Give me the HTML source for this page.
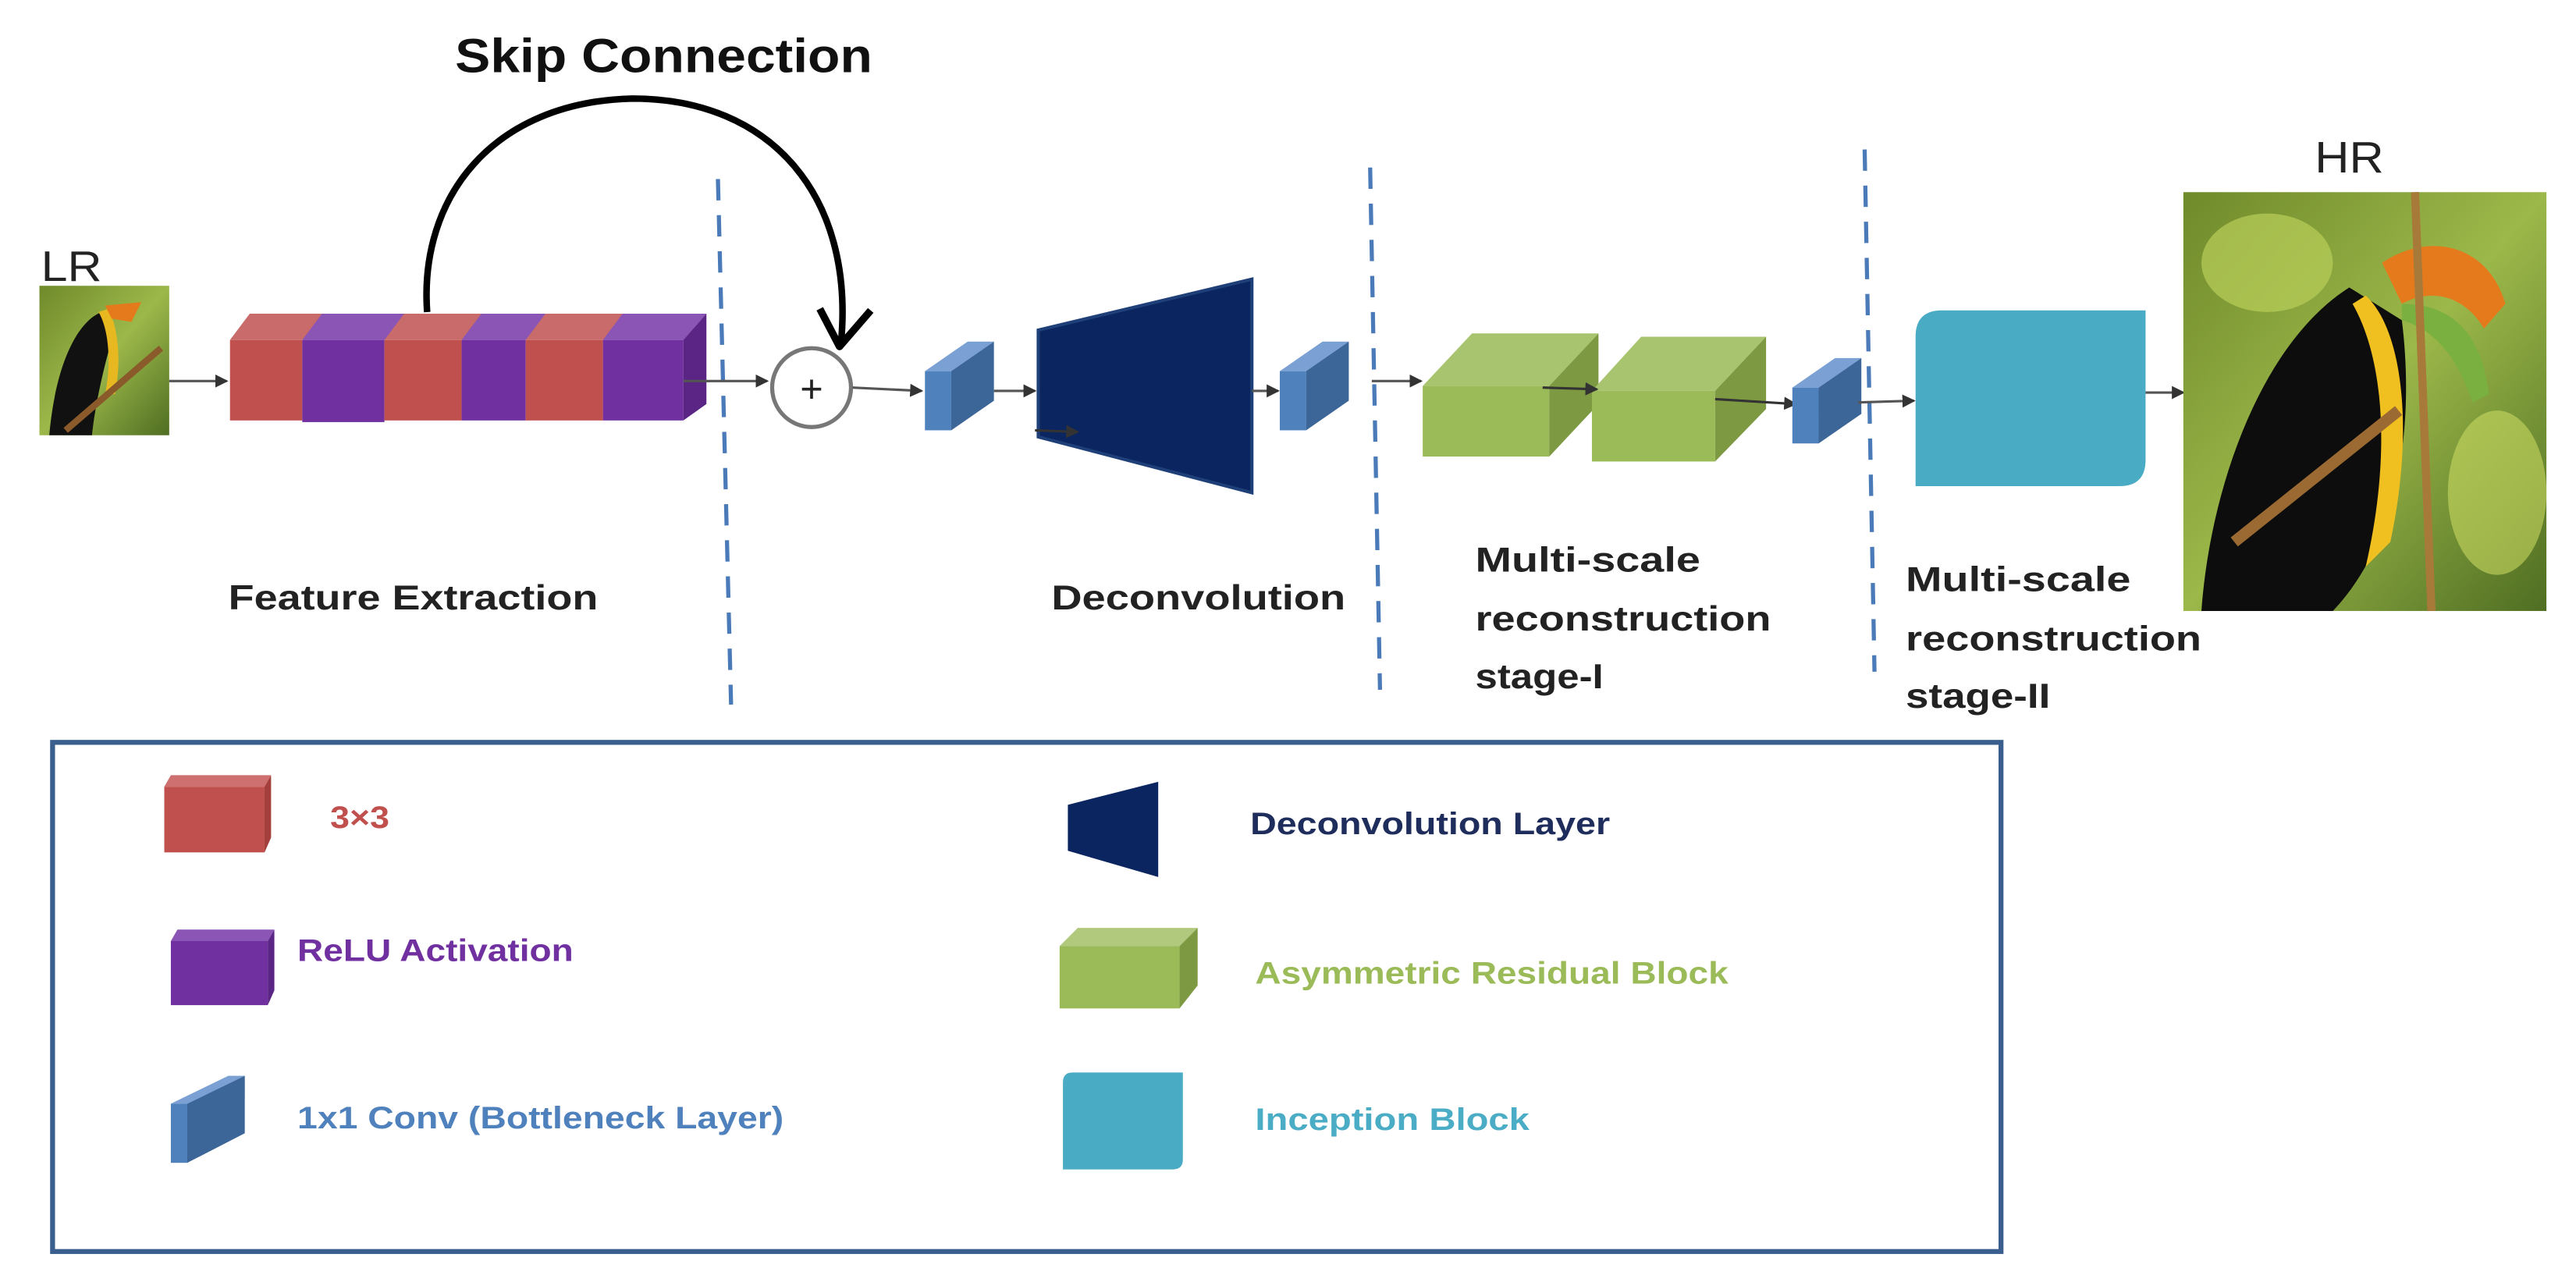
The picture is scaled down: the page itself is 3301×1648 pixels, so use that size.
<!DOCTYPE html>
<html><head><meta charset="utf-8"><style>
html,body{margin:0;padding:0;background:#fff;}
svg{display:block;}
text{font-family:"Liberation Sans",sans-serif;font-weight:bold;}
</style></head><body>
<svg width="3301" height="1648" viewBox="0 0 1568 783" preserveAspectRatio="none" xmlns="http://www.w3.org/2000/svg">
<defs>
<marker id="ah" markerWidth="8" markerHeight="8" refX="7" refY="4" orient="auto" markerUnits="userSpaceOnUse">
<path d="M0,0 L8,4 L0,8 Z" fill="#333"/></marker>
<linearGradient id="bg1" x1="0" y1="0" x2="1" y2="1">
<stop offset="0" stop-color="#6f8a2a"/><stop offset="0.5" stop-color="#9cb84a"/><stop offset="1" stop-color="#4f6e22"/></linearGradient>
</defs>

<text x="277" y="44" font-size="29" fill="#111" textLength="254" lengthAdjust="spacingAndGlyphs">Skip Connection</text>
<path d="M260,190 C255,120 300,62 385,60 C470,60 520,120 512,208" fill="none" stroke="#000" stroke-width="4"/>
<path d="M499,188 L511,211 L530,189" fill="none" stroke="#000" stroke-width="4.5" stroke-linejoin="round"/>

<text x="25" y="171" font-size="26" style="font-weight:normal" fill="#222" textLength="37" lengthAdjust="spacingAndGlyphs">LR</text>
<g>
<rect x="24" y="174" width="79" height="91" fill="url(#bg1)"/>
<path d="M30,265 C34,220 48,195 62,190 L70,200 C64,220 58,245 56,265 Z" fill="#111"/>
<path d="M60,190 C66,200 68,220 64,240 L70,240 C74,220 72,200 66,188 Z" fill="#e8b820"/>
<path d="M64,186 L86,184 L80,196 L68,194 Z" fill="#e57a1c"/>
<path d="M40,262 L98,212" stroke="#8a5a2a" stroke-width="4"/>
</g>
<line x1="103" y1="232" x2="138" y2="232" stroke="#555" stroke-width="1.5" marker-end="url(#ah)"/>

<g>
<polygon points="140,207 152,191 430,191 416,207" fill="#c96b6b"/>
<polygon points="184,207 196,191 246,191 234,207" fill="#8a55b5"/>
<polygon points="281,207 293,191 332,191 320,207" fill="#8a55b5"/>
<polygon points="367,207 379,191 430,191 416,207" fill="#8a55b5"/>
<rect x="140" y="207" width="44" height="49" fill="#c0504d"/>
<rect x="184" y="207" width="50" height="50" fill="#7030a0"/>
<rect x="234" y="207" width="47" height="49" fill="#c0504d"/>
<rect x="281" y="207" width="39" height="49" fill="#7030a0"/>
<rect x="320" y="207" width="47" height="49" fill="#c0504d"/>
<rect x="367" y="207" width="49" height="49" fill="#7030a0"/>
<polygon points="416,207 430,191 430,246 416,256" fill="#5a2585"/>
</g>

<line x1="437" y1="109" x2="445" y2="429" stroke="#4a7ab8" stroke-width="2.5" stroke-dasharray="13,9"/>
<line x1="834" y1="102" x2="840" y2="420" stroke="#4a7ab8" stroke-width="2.5" stroke-dasharray="13,9"/>
<line x1="1135" y1="91" x2="1141" y2="409" stroke="#4a7ab8" stroke-width="2.5" stroke-dasharray="13,9"/>

<line x1="416" y1="232" x2="467" y2="232" stroke="#555" stroke-width="1.5" marker-end="url(#ah)"/>
<circle cx="494" cy="236" r="24" fill="#fff" stroke="#777" stroke-width="2.5"/>
<text x="494" y="245" font-size="24" style="font-weight:normal" text-anchor="middle" fill="#222">+</text>
<line x1="519" y1="236" x2="561" y2="238" stroke="#555" stroke-width="1.5" marker-end="url(#ah)"/>

<polygon points="563,226 579,226 605,208 589,208" fill="#7aa0d4"/>
<rect x="563" y="226" width="16" height="36" fill="#4f81bd"/>
<polygon points="579,226 605,208 605,244 579,262" fill="#3c6598"/>
<line x1="605" y1="238" x2="630" y2="238" stroke="#555" stroke-width="1.5" marker-end="url(#ah)"/>

<polygon points="632,201 762,170 762,300 632,266" fill="#0a2560" stroke="#1e3f78" stroke-width="2"/>
<line x1="630" y1="262" x2="656" y2="263" stroke="#333" stroke-width="1.5" marker-end="url(#ah)"/>
<line x1="762" y1="238" x2="778" y2="238" stroke="#555" stroke-width="1.5" marker-end="url(#ah)"/>

<polygon points="779,226 795,226 821,208 805,208" fill="#7aa0d4"/>
<rect x="779" y="226" width="16" height="36" fill="#4f81bd"/>
<polygon points="795,226 821,208 821,244 795,262" fill="#3c6598"/>

<line x1="835" y1="232" x2="865" y2="232" stroke="#555" stroke-width="1.5" marker-end="url(#ah)"/>

<polygon points="866,235 896,203 973,203 943,235" fill="#a8c46e"/>
<rect x="866" y="235" width="77" height="43" fill="#9bbb59"/>
<polygon points="943,235 973,203 973,246 943,278" fill="#7d9a42"/>
<polygon points="969,238 999,205 1075,205 1044,238" fill="#a8c46e"/>
<rect x="969" y="238" width="75" height="43" fill="#9bbb59"/>
<polygon points="1044,238 1075,205 1075,249 1044,281" fill="#7d9a42"/>
<line x1="939" y1="236" x2="972" y2="237" stroke="#333" stroke-width="1.5" marker-end="url(#ah)"/>
<line x1="1044" y1="243" x2="1093" y2="246" stroke="#333" stroke-width="1.5" marker-end="url(#ah)"/>

<polygon points="1091,236 1107,236 1133,218 1117,218" fill="#7aa0d4"/>
<rect x="1091" y="236" width="16" height="34" fill="#4f81bd"/>
<polygon points="1107,236 1133,218 1133,252 1107,270" fill="#3c6598"/>
<line x1="1131" y1="245" x2="1165" y2="244" stroke="#555" stroke-width="1.5" marker-end="url(#ah)"/>

<path d="M1182,189 L1306,189 L1306,280 Q1306,296 1290,296 L1166,296 L1166,205 Q1166,189 1182,189 Z" fill="#4aabc4"/>
<line x1="1306" y1="239" x2="1329" y2="239" stroke="#555" stroke-width="1.5" marker-end="url(#ah)"/>

<text x="1409" y="105" font-size="27" style="font-weight:normal" fill="#222" textLength="42" lengthAdjust="spacingAndGlyphs">HR</text>
<g>
<rect x="1329" y="117" width="221" height="255" fill="url(#bg1)"/>
<ellipse cx="1380" cy="160" rx="40" ry="30" fill="#b9cf5a" opacity="0.7"/>
<ellipse cx="1520" cy="300" rx="30" ry="50" fill="#c8d860" opacity="0.6"/>
<path d="M1340,372 C1345,300 1375,210 1430,175 L1462,195 C1470,260 1460,330 1420,372 Z" fill="#0d0d0d"/>
<path d="M1440,180 C1462,200 1470,260 1455,330 L1440,345 C1455,280 1452,220 1432,185 Z" fill="#f0c020"/>
<path d="M1450,160 C1480,140 1515,150 1525,185 L1512,200 C1500,180 1480,175 1462,185 Z" fill="#e57a1c"/>
<path d="M1462,185 C1490,185 1510,200 1515,240 L1505,245 C1495,215 1480,200 1462,195 Z" fill="#7ab040"/>
<path d="M1360,330 L1460,250" stroke="#9a6a32" stroke-width="7"/>
<path d="M1470,117 L1480,372" stroke="#a87a3a" stroke-width="5"/>
</g>

<text x="139" y="371" font-size="21" fill="#222" textLength="225" lengthAdjust="spacingAndGlyphs">Feature Extraction</text>
<text x="640" y="371" font-size="21" fill="#222" textLength="179" lengthAdjust="spacingAndGlyphs">Deconvolution</text>
<text x="898" y="348" font-size="21" fill="#222" textLength="137" lengthAdjust="spacingAndGlyphs">Multi-scale</text>
<text x="898" y="384" font-size="21" fill="#222" textLength="180" lengthAdjust="spacingAndGlyphs">reconstruction</text>
<text x="898" y="419" font-size="21" fill="#222" textLength="78" lengthAdjust="spacingAndGlyphs">stage-I</text>
<text x="1160" y="360" font-size="21" fill="#222" textLength="137" lengthAdjust="spacingAndGlyphs">Multi-scale</text>
<text x="1160" y="396" font-size="21" fill="#222" textLength="180" lengthAdjust="spacingAndGlyphs">reconstruction</text>
<text x="1160" y="431" font-size="21" fill="#222" textLength="88" lengthAdjust="spacingAndGlyphs">stage-II</text>

<rect x="32" y="452" width="1186" height="310" fill="none" stroke="#3a5f8f" stroke-width="3"/>

<polygon points="100,479 104,472 165,472 161,479" fill="#cf7070"/>
<rect x="100" y="479" width="61" height="40" fill="#c0504d"/>
<polygon points="161,479 165,472 165,510 161,519" fill="#a33f3c"/>
<text x="201" y="504" font-size="19" fill="#c0504d" textLength="36" lengthAdjust="spacingAndGlyphs">3×3</text>

<polygon points="104,573 108,566 167,566 163,573" fill="#8a55b5"/>
<rect x="104" y="573" width="59" height="39" fill="#7030a0"/>
<polygon points="163,573 167,566 167,603 163,612" fill="#5a2585"/>
<text x="181" y="585" font-size="19" fill="#7030a0" textLength="168" lengthAdjust="spacingAndGlyphs">ReLU Activation</text>

<polygon points="104,672 114,672 149,655 139,655" fill="#7aa0d4"/>
<rect x="104" y="672" width="10" height="36" fill="#4f81bd"/>
<polygon points="114,672 149,655 149,690 114,708" fill="#3c6598"/>
<text x="181" y="687" font-size="19" fill="#4f81bd" textLength="296" lengthAdjust="spacingAndGlyphs">1x1 Conv (Bottleneck Layer)</text>

<polygon points="650,490 705,476 705,534 650,518" fill="#0a2560"/>
<text x="761" y="508" font-size="19" fill="#1f2d5c" textLength="219" lengthAdjust="spacingAndGlyphs">Deconvolution Layer</text>

<polygon points="645,576 656,565 729,565 718,576" fill="#b0c97c"/>
<rect x="645" y="576" width="73" height="38" fill="#9bbb59"/>
<polygon points="718,576 729,565 729,600 718,614" fill="#7d9a42"/>
<text x="764" y="599" font-size="19" fill="#9bbb59" textLength="288" lengthAdjust="spacingAndGlyphs">Asymmetric Residual Block</text>

<path d="M653,653 L720,653 L720,706 Q720,712 714,712 L647,712 L647,659 Q647,653 653,653 Z" fill="#4aabc4"/>
<text x="764" y="688" font-size="19" fill="#4bacc6" textLength="167" lengthAdjust="spacingAndGlyphs">Inception Block</text>
</svg>
</body></html>
